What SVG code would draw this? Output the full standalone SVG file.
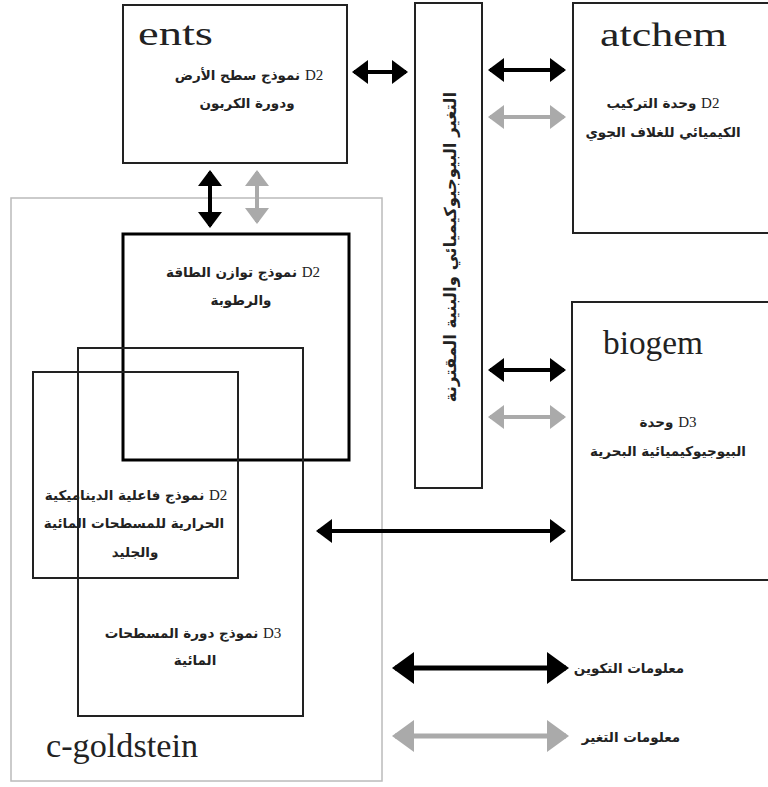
<svg xmlns="http://www.w3.org/2000/svg" width="768" height="787" viewBox="0 0 768 787">
<defs>
<style>
.box{fill:none;stroke:#222;stroke-width:2}
.thick{fill:none;stroke:#000;stroke-width:3}
.outer{fill:none;stroke:#bbb;stroke-width:1.5}
.title{font-family:"Liberation Serif",serif;font-size:34px;fill:#222}
.ar{font-family:"DejaVu Sans",sans-serif;font-size:13.5px;font-weight:bold;fill:#222;text-anchor:middle}
.d{font-family:"Liberation Serif",serif;font-weight:normal;font-size:15px}
.blk{stroke:#000;stroke-width:4;fill:none}
.gry{stroke:#aaa;stroke-width:4;fill:none}
.blkL{stroke:#000;stroke-width:5;fill:none}
.gryL{stroke:#aaa;stroke-width:5;fill:none}
</style>
<marker id="hb" viewBox="0 0 16 24" markerWidth="16" markerHeight="24" refX="14" refY="12" orient="auto-start-reverse" markerUnits="userSpaceOnUse"><path d="M0,0 L16,12 L0,24 z" fill="#000"/></marker>
<marker id="hg" viewBox="0 0 16 24" markerWidth="16" markerHeight="24" refX="14" refY="12" orient="auto-start-reverse" markerUnits="userSpaceOnUse"><path d="M0,0 L16,12 L0,24 z" fill="#aaa"/></marker>
<marker id="hbL" viewBox="0 0 22 32" markerWidth="22" markerHeight="32" refX="19" refY="16" orient="auto-start-reverse" markerUnits="userSpaceOnUse"><path d="M0,0 L22,16 L0,32 z" fill="#000"/></marker>
<marker id="hgL" viewBox="0 0 22 32" markerWidth="22" markerHeight="32" refX="19" refY="16" orient="auto-start-reverse" markerUnits="userSpaceOnUse"><path d="M0,0 L22,16 L0,32 z" fill="#aaa"/></marker>
</defs>
<rect width="768" height="787" fill="#fff"/>

<g id="c-goldstein">
<rect class="outer" x="11" y="198" width="371" height="583"/>
<text class="title" x="46" y="757" textLength="152" lengthAdjust="spacingAndGlyphs">c-goldstein</text>
</g>

<g id="ents">
<rect class="box" x="123" y="5" width="224" height="158"/>
<text class="title" x="138" y="45" textLength="75" lengthAdjust="spacingAndGlyphs">ents</text>
<text class="ar" x="249" y="80" direction="rtl"><tspan class="d">D2</tspan> نموذج سطح الأرض</text>
<text class="ar" x="247" y="108" direction="rtl">ودورة الكربون</text>
</g>

<g id="coupling">
<rect class="box" x="415" y="3" width="67" height="485"/>
<text class="ar" transform="translate(450,247) rotate(-90)" dominant-baseline="central" style="font-size:16.5px" direction="rtl">التغير البيوجيوكيميائي والبنية المقترنة</text>
</g>

<g id="atchem">
<rect class="box" x="573" y="3" width="210" height="230"/>
<text class="title" x="600" y="46" textLength="127" lengthAdjust="spacingAndGlyphs">atchem</text>
<text class="ar" x="663" y="108" direction="rtl"><tspan class="d">D2</tspan>  وحدة التركيب</text>
<text class="ar" x="663" y="137" direction="rtl">الكيميائي للغلاف الجوي</text>
</g>

<g id="biogem">
<rect class="box" x="572" y="302" width="210" height="278"/>
<text class="title" x="603" y="354" textLength="100" lengthAdjust="spacingAndGlyphs">biogem</text>
<text class="ar" x="668" y="427" direction="rtl"><tspan class="d">D3</tspan>  وحدة</text>
<text class="ar" x="668" y="456" direction="rtl">البيوجيوكيميائية البحرية</text>
</g>

<g id="embm">
<rect class="thick" x="123" y="234" width="226" height="226"/>
<text class="ar" x="243" y="277" direction="rtl"><tspan class="d">D2</tspan> نموذج توازن الطاقة</text>
<text class="ar" x="241" y="305" direction="rtl">والرطوبة</text>
</g>

<g id="ocean">
<rect class="box" x="78" y="348" width="225" height="368"/>
<text class="ar" x="193" y="638" direction="rtl"><tspan class="d">D3</tspan> نموذج دورة المسطحات</text>
<text class="ar" x="195" y="665" direction="rtl">المائية</text>
</g>

<g id="seaice">
<rect class="box" x="33" y="372" width="205" height="206"/>
<text class="ar" x="136" y="500" direction="rtl"><tspan class="d">D2</tspan> نموذج فاعلية الديناميكية</text>
<text class="ar" x="134" y="528" direction="rtl">الحرارية للمسطحات المائية</text>
<text class="ar" x="135" y="557" direction="rtl">والجليد</text>
</g>

<g id="connectors">
<line class="blk" x1="354" y1="72" x2="406" y2="72" marker-start="url(#hb)" marker-end="url(#hb)"/>
<line class="blk" x1="490" y1="70" x2="564" y2="70" marker-start="url(#hb)" marker-end="url(#hb)"/>
<line class="gry" x1="490" y1="117" x2="564" y2="117" marker-start="url(#hg)" marker-end="url(#hg)"/>
<line class="blk" x1="210" y1="172" x2="210" y2="226" marker-start="url(#hb)" marker-end="url(#hb)"/>
<line class="gry" x1="257" y1="172" x2="257" y2="222" marker-start="url(#hg)" marker-end="url(#hg)"/>
<line class="blk" x1="490" y1="370" x2="564" y2="370" marker-start="url(#hb)" marker-end="url(#hb)"/>
<line class="gry" x1="490" y1="417" x2="564" y2="417" marker-start="url(#hg)" marker-end="url(#hg)"/>
<line class="blk" x1="318" y1="531" x2="564" y2="531" marker-start="url(#hb)" marker-end="url(#hb)"/>
</g>

<g id="legend">
<line class="blkL" x1="395" y1="668" x2="566" y2="668" marker-start="url(#hbL)" marker-end="url(#hbL)"/>
<line class="gryL" x1="395" y1="736" x2="566" y2="736" marker-start="url(#hgL)" marker-end="url(#hgL)"/>
<text class="ar" x="629" y="673" direction="rtl">معلومات التكوين</text>
<text class="ar" x="631" y="742" direction="rtl">معلومات التغير</text>
</g>
</svg>
